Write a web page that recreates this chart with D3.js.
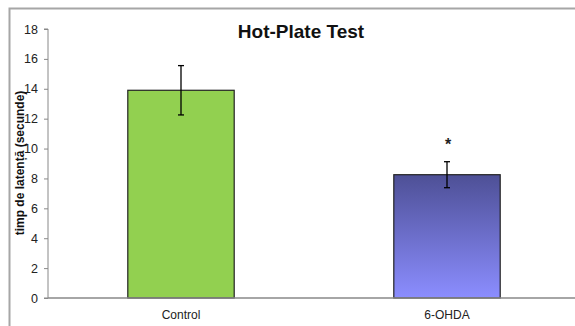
<!DOCTYPE html>
<html>
<head>
<meta charset="utf-8">
<script src="https://cdn.jsdelivr.net/npm/d3@7"></script>
<style>
  body { margin: 0; background: #fff; }
  svg { display: block; font-family: Arial, "Liberation Sans", sans-serif; }
</style>
</head>
<body>
<div id="chart"></div>
<script>
const categories = ["Control", "6-OHDA"];
const means = [13.9, 8.25];
const errors = [1.65, 0.87];
const significant = [false, true];
const yTicks = [0, 2, 4, 6, 8, 10, 12, 14, 16, 18];

const W = 575, H = 326;
const margin = { left: 48, right: -5, top: 29, bottom: 28 };
const width = W - margin.left - margin.right;
const height = H - margin.top - margin.bottom;

const svg = d3.select("#chart").append("svg")
    .attr("width", W)
    .attr("height", H);

const defs = svg.append("defs");
const grad = defs.append("linearGradient")
    .attr("id", "blueGrad")
    .attr("x1", 0).attr("y1", 0).attr("x2", 0).attr("y2", 1);
grad.append("stop").attr("offset", "0%").attr("stop-color", "#4e5096");
grad.append("stop").attr("offset", "100%").attr("stop-color", "#8b8dff");

// outer frame (only top and left edges are visible)
svg.append("path")
    .attr("d", `M9.5,${H} V8.5 H${W}`)
    .attr("fill", "none")
    .attr("stroke", "#a6a6a6")
    .attr("stroke-width", 2);

const g = svg.append("g")
    .attr("transform", `translate(${margin.left}, ${margin.top})`);

const x = d3.scaleBand()
    .domain(categories)
    .range([0, width])
    .paddingInner(0.6)
    .paddingOuter(0.3);

const y = d3.scaleLinear()
    .domain([0, 18])
    .range([height, 0]);

const fills = ["#92d050", "url(#blueGrad)"];

g.selectAll("rect.bar")
    .data(categories)
    .join("rect")
    .attr("class", "bar")
    .attr("x", d => x(d))
    .attr("y", (d, i) => y(means[i]))
    .attr("width", x.bandwidth())
    .attr("height", (d, i) => height - y(means[i]))
    .attr("fill", (d, i) => fills[i])
    .attr("stroke", "#222")
    .attr("stroke-width", 1.2);

// error bars
const eb = g.selectAll("g.err")
    .data(categories)
    .join("g")
    .attr("class", "err")
    .attr("stroke", "#000")
    .attr("stroke-width", 1.3);
eb.append("line")
    .attr("x1", d => x(d) + x.bandwidth() / 2)
    .attr("x2", d => x(d) + x.bandwidth() / 2)
    .attr("y1", (d, i) => y(means[i] + errors[i]))
    .attr("y2", (d, i) => y(means[i] - errors[i]));
eb.append("line")
    .attr("x1", d => x(d) + x.bandwidth() / 2 - 3)
    .attr("x2", d => x(d) + x.bandwidth() / 2 + 3)
    .attr("y1", (d, i) => y(means[i] + errors[i]))
    .attr("y2", (d, i) => y(means[i] + errors[i]));
eb.append("line")
    .attr("x1", d => x(d) + x.bandwidth() / 2 - 3)
    .attr("x2", d => x(d) + x.bandwidth() / 2 + 3)
    .attr("y1", (d, i) => y(means[i] - errors[i]))
    .attr("y2", (d, i) => y(means[i] - errors[i]));

// significance marks
g.selectAll("text.sig")
    .data(categories.filter((d, i) => significant[i]))
    .join("text")
    .attr("class", "sig")
    .attr("x", d => x(d) + x.bandwidth() / 2 + 1)
    .attr("y", d => y(means[categories.indexOf(d)] + errors[categories.indexOf(d)]) - 12)
    .attr("text-anchor", "middle")
    .attr("font-size", 16)
    .attr("font-weight", "bold")
    .attr("fill", "#222")
    .text("*");

// axes
const yAxis = g.append("g")
    .call(d3.axisLeft(y).tickValues(yTicks).tickSize(4).tickPadding(6));
yAxis.selectAll("path, line").attr("stroke", "#888");
yAxis.select(".domain").attr("d", `M-4,${height}H0V0H-4`);
yAxis.selectAll("text").attr("font-size", 12.5).attr("fill", "#222")
    .attr("font-family", "Arial, 'Liberation Sans', sans-serif");

const xAxis = g.append("g")
    .attr("transform", `translate(0, ${height})`)
    .call(d3.axisBottom(x).tickSize(0).tickPadding(12));
xAxis.select(".domain").attr("stroke", "#888").attr("stroke-width", 1.5)
    .attr("d", `M0,0H${width}`);
xAxis.selectAll("text").attr("font-size", 12).attr("fill", "#222")
    .attr("font-family", "Arial, 'Liberation Sans', sans-serif");

// title
svg.append("text")
    .attr("x", 301)
    .attr("y", 38)
    .attr("text-anchor", "middle")
    .attr("font-size", 19)
    .attr("font-weight", "bold")
    .attr("fill", "#111")
    .text("Hot-Plate Test");

// y label
svg.append("text")
    .attr("transform", `translate(24, 163) rotate(-90)`)
    .attr("text-anchor", "middle")
    .attr("font-size", 12)
    .attr("font-weight", "bold")
    .attr("fill", "#111")
    .text("timp de latență (secunde)");
</script>
</body>
</html>
